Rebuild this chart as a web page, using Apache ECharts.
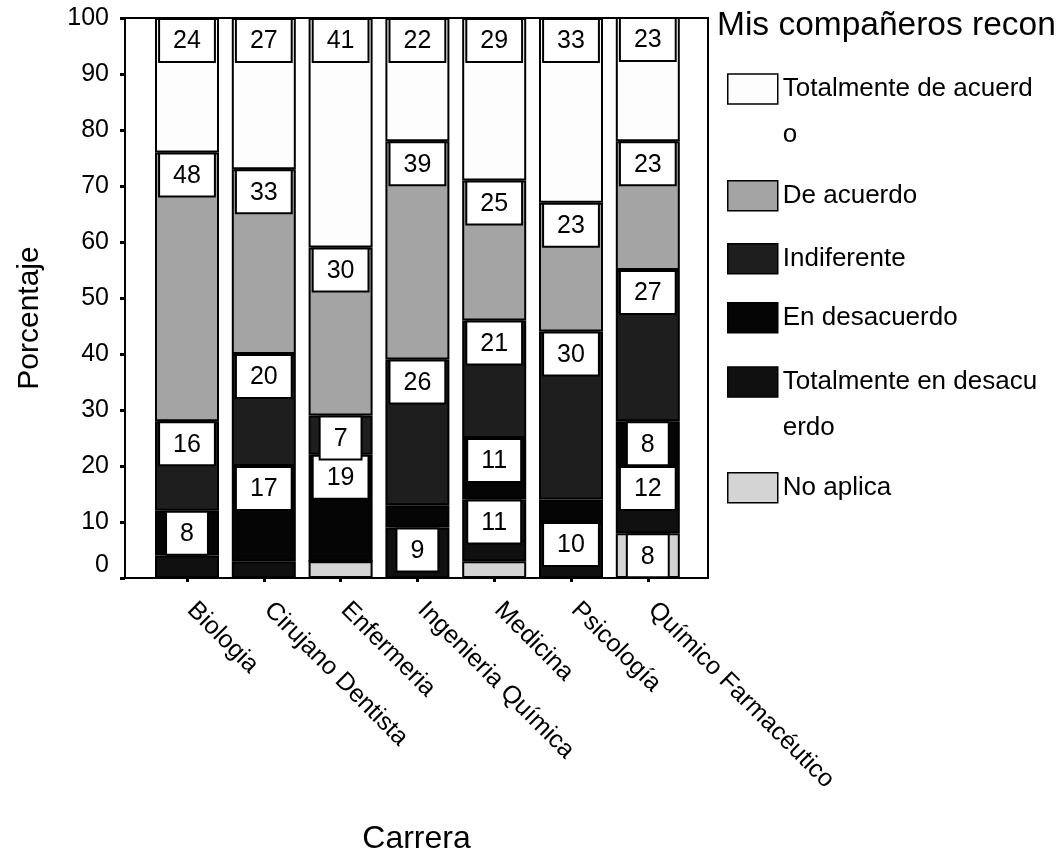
<!DOCTYPE html>
<html>
<head>
<meta charset="utf-8">
<script src="https://cdn.jsdelivr.net/npm/echarts@6/dist/echarts.min.js"></script>
<style>
  html, body { margin: 0; padding: 0; background: #ffffff; }
  #chart { width: 1059px; height: 851px; }
</style>
</head>
<body>
<div id="chart"></div>
<script>
// Careers on the category axis
const categories = ['Biologia', 'Cirujano Dentista', 'Enfermeria', 'Ingenieria Química', 'Medicina', 'Psicología', 'Químico Farmacéutico'];

// Percentages per answer, one array per answer (stacked bottom to top)
const noAplica = [0, 0, 3, 0, 3, 0, 8];
const totalmenteEnDesacuerdo = [4, 3, 0, 9, 11, 10, 12];
const enDesacuerdo = [8, 17, 19, 4, 11, 4, 8];
const indiferente = [16, 20, 7, 26, 21, 30, 27];
const deAcuerdo = [48, 33, 30, 39, 25, 23, 23];
const totalmenteDeAcuerdo = [24, 27, 41, 22, 29, 33, 23];

// Y axis tick values
const yTicks = [0, 10, 20, 30, 40, 50, 60, 70, 80, 90, 100];

// Legend wording, wrapped the way the legend box shows it
const legendTitle = 'Mis compañeros recon';
const legendWrapped = {
  'Totalmente de acuerdo': 'Totalmente de acuerd\no',
  'Totalmente en desacuerdo': 'Totalmente en desacu\nerdo'
};

const FONT = '"Liberation Sans", Arial, sans-serif';

const seriesDefs = [
  { name: 'No aplica', data: noAplica, color: '#d4d4d4' },
  { name: 'Totalmente en desacuerdo', data: totalmenteEnDesacuerdo, color: '#101010' },
  { name: 'En desacuerdo', data: enDesacuerdo, color: '#050505' },
  { name: 'Indiferente', data: indiferente, color: '#1e1e1e' },
  { name: 'De acuerdo', data: deAcuerdo, color: '#a4a4a4' },
  { name: 'Totalmente de acuerdo', data: totalmenteDeAcuerdo, color: '#fdfdfd' }
];

const series = seriesDefs.map(s => ({
  name: s.name,
  type: 'bar',
  stack: 'total',
  xAxisIndex: 1,
  yAxisIndex: 1,
  barWidth: 64,
  clip: true,
  itemStyle: { color: s.color, borderColor: '#000', borderWidth: 2 },
  emphasis: { disabled: true },
  label: {
    show: true,
    position: 'insideTop',
    distance: 2,
    formatter: '{c}',
    color: '#000',
    fontSize: 25,
    fontFamily: FONT,
    backgroundColor: '#ffffff',
    borderColor: '#000',
    borderWidth: 2,
    padding: [9, 13, 7, 13]
  },
  data: s.data.map(v => ({ value: v, label: { show: v >= 5 } }))
}));

// Legend: one block per answer, listed top to bottom from the top of the stack
const legendOrder = seriesDefs.map(s => s.name).reverse();
const legendTops = [20, 180, 243, 302, 313, 472];
const legends = legendOrder.map((name, i) => {
  const wrapped = legendWrapped[name];
  return {
    orient: 'vertical',
    left: 727,
    top: legendTops[i],
    padding: 0,
    itemWidth: 50,
    itemHeight: 30,
    icon: 'rect',
    selectedMode: false,
    itemStyle: { borderColor: '#000', borderWidth: 1.5 },
    textStyle: Object.assign(
      { fontSize: 26, color: '#000', fontFamily: FONT },
      wrapped ? { lineHeight: 46 } : {}
    ),
    formatter: n => (legendWrapped[n] ? '\n' + legendWrapped[n] : n),
    data: [name]
  };
});

const chart = echarts.init(document.getElementById('chart'), null, { renderer: 'canvas' });

chart.setOption({
  backgroundColor: '#ffffff',
  animation: false,
  title: {
    text: legendTitle,
    left: 717,
    top: 9,
    padding: 0,
    textStyle: { fontSize: 33.5, fontWeight: 'normal', color: '#000', fontFamily: FONT }
  },
  legend: legends,
  grid: [
    { left: 125, top: 18, right: 351, bottom: 273, outerBoundsMode: 'none', containLabel: false, show: true, borderColor: '#000', borderWidth: 2, backgroundColor: 'transparent' },
    { left: 148.6, top: 18, right: 372.8, bottom: 273, outerBoundsMode: 'none', containLabel: false }
  ],
  xAxis: [
    {
      gridIndex: 0,
      type: 'value',
      min: 0,
      max: 1,
      axisLine: { show: true, lineStyle: { color: '#000', width: 2 } },
      axisTick: { show: false },
      axisLabel: { show: false },
      splitLine: { show: false },
      name: 'Carrera',
      nameLocation: 'middle',
      nameGap: 245,
      nameTextStyle: { fontSize: 32, color: '#000', fontFamily: FONT }
    },
    {
      gridIndex: 1,
      type: 'category',
      data: categories,
      axisLine: { show: false },
      axisTick: { show: true, alignWithLabel: true, length: 4, lineStyle: { color: '#000', width: 3 } },
      axisLabel: { interval: 0, rotate: -45, margin: 24, padding: [0, 0, 13, 6], fontSize: 25, color: '#000', fontFamily: FONT },
      splitLine: { show: false }
    }
  ],
  yAxis: [
    {
      gridIndex: 0,
      type: 'value',
      min: yTicks[0],
      max: yTicks[yTicks.length - 1],
      interval: yTicks[1] - yTicks[0],
      axisLine: { show: true, lineStyle: { color: '#000', width: 2 } },
      axisTick: { show: true, inside: false, length: 5, lineStyle: { color: '#000', width: 3 } },
      splitLine: { show: false },
      axisLabel: {
        margin: 16,
        fontSize: 25,
        color: '#000',
        fontFamily: FONT,
        formatter: v => (v === 0 ? '{z|0}' : String(v)),
        rich: { z: { fontSize: 25, color: '#000', fontFamily: FONT, padding: [0, 0, 26, 0] } }
      },
      name: 'Porcentaje',
      nameLocation: 'middle',
      nameGap: 80,
      nameTextStyle: { fontSize: 30, color: '#000', fontFamily: FONT, padding: [0, 40, 0, 0] }
    },
    {
      gridIndex: 1,
      type: 'value',
      min: yTicks[0],
      max: yTicks[yTicks.length - 1],
      show: false
    }
  ],
  series: series
});
</script>
</body>
</html>
